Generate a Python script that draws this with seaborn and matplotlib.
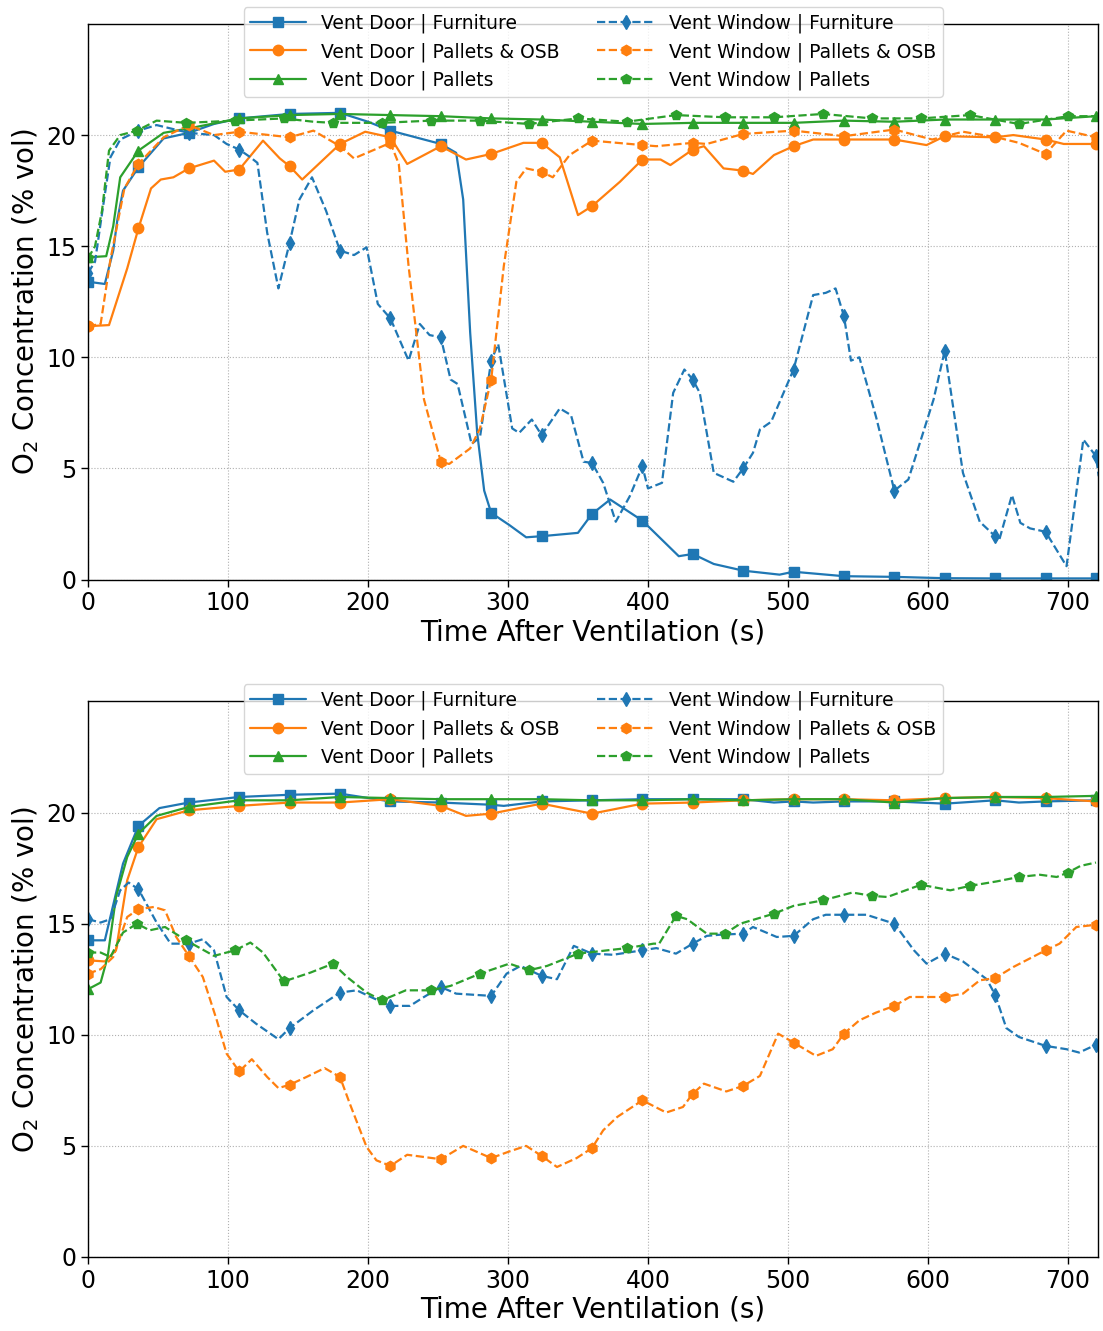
import numpy as np
import seaborn as sns
import matplotlib
matplotlib.use('Agg')
import matplotlib.pyplot as plt

# ---- data ----
# top panel
t_door_furn_1 = [0, 12, 18, 21, 25, 36, 54, 72, 90, 108, 144, 180, 200, 216, 252, 263, 268, 273, 278, 283, 288, 301,
                 313, 324, 350, 360, 373, 396, 422, 432, 447, 468, 494, 504, 540, 576, 612, 648, 684, 720]
o2_door_furn_1 = [13.4, 13.3, 14.8, 16.2, 17.5, 18.55, 19.85, 20.1, 20.5, 20.75, 20.95, 21.0, 20.6, 20.2, 19.6, 19.2,
                  17.1, 11.1, 6.6, 4.0, 3.0, 2.45, 1.9, 1.95, 2.1, 2.95, 3.6, 2.65, 1.05, 1.15, 0.7, 0.4, 0.22, 0.35,
                  0.15, 0.12, 0.06, 0.05, 0.05, 0.05]

t_door_posb_1 = [0, 15, 28, 36, 45, 52, 61, 72, 90, 98, 108, 125, 137, 144, 153, 180, 198, 216, 228, 252, 270, 288, 311,
                 324, 337, 350, 360, 380, 396, 409, 416, 432, 440, 454, 468, 475, 490, 504, 518, 540, 576, 599, 612, 648,
                 661, 684, 697, 720]
o2_door_posb_1 = [11.4, 11.45, 14.0, 15.8, 17.6, 18.0, 18.1, 18.5, 18.85, 18.35, 18.45, 19.75, 18.95, 18.6, 18.0, 19.6,
                  20.15, 19.9, 18.7, 19.5, 18.9, 19.15, 19.65, 19.65, 19.0, 16.4, 16.8, 17.9, 18.9, 18.9, 18.65, 19.35,
                  19.5, 18.5, 18.4, 18.25, 19.1, 19.5, 19.8, 19.8, 19.8, 19.55, 19.95, 19.9, 20.0, 19.8, 19.6, 19.6]

t_door_pal_1 = [0, 13, 18, 23, 36, 54, 72, 108, 144, 180, 216, 252, 288, 324, 360, 396, 432, 468, 504, 540, 576, 612,
                648, 684, 720]
o2_door_pal_1 = [14.5, 14.55, 15.9, 18.1, 19.3, 20.1, 20.3, 20.75, 20.9, 20.95, 20.9, 20.85, 20.75, 20.7, 20.6, 20.5,
                 20.55, 20.55, 20.55, 20.65, 20.6, 20.7, 20.7, 20.7, 20.85]

t_win_furn_1 = [0, 5, 11, 16, 23, 36, 49, 72, 90, 99, 108, 116, 121, 128, 136, 144, 151, 160, 170, 180, 190, 199, 207,
                216, 229, 237, 244, 252, 259, 264, 274, 280, 288, 293, 303, 308, 317, 324, 337, 345, 354, 360, 368, 377,
                387, 396, 400, 410, 418, 426, 432, 437, 447, 461, 468, 475, 480, 488, 504, 518, 527, 534, 540, 545, 551,
                563, 576, 586, 604, 612, 625, 637, 648, 651, 660, 666, 673, 684, 699, 711, 720, 722]
o2_win_furn_1 = [13.8, 14.3, 16.9, 19.0, 19.8, 20.2, 20.45, 20.1, 20.0, 19.6, 19.35, 19.0, 18.75, 15.6, 13.1, 15.15,
                 17.1, 18.1, 16.6, 14.8, 14.6, 14.95, 12.4, 11.75, 9.85, 11.5, 11.0, 10.9, 9.0, 8.8, 6.1, 6.4, 9.85,
                 10.6, 6.8, 6.6, 7.2, 6.5, 7.7, 7.4, 5.3, 5.25, 4.35, 2.6, 3.75, 5.1, 4.1, 4.35, 8.4, 9.45, 9.0, 8.4,
                 4.8, 4.4, 5.0, 5.7, 6.75, 7.1, 9.45, 12.8, 12.9, 13.1, 11.85, 9.85, 10.0, 7.3, 4.0, 4.5, 8.1, 10.3,
                 4.8, 2.6, 1.95, 1.8, 3.8, 2.55, 2.3, 2.15, 0.6, 6.3, 5.55, 4.65]

t_win_posb_1 = [0, 9, 16, 26, 36, 54, 72, 90, 108, 144, 161, 180, 190, 216, 222, 229, 240, 252, 258, 273, 280, 288, 297,
                306, 313, 324, 332, 344, 360, 396, 406, 432, 442, 468, 504, 540, 576, 603, 625, 649, 665, 684, 699, 720]
o2_win_posb_1 = [11.4, 11.5, 14.4, 17.6, 18.7, 19.9, 20.45, 20.0, 20.15, 19.9, 20.2, 19.5, 18.95, 19.65, 18.7, 14.1,
                 8.1, 5.3, 5.2, 5.9, 6.8, 9.0, 14.1, 17.9, 18.5, 18.35, 18.1, 19.1, 19.75, 19.55, 19.5, 19.65, 19.6,
                 20.05, 20.2, 19.95, 20.25, 19.8, 20.15, 19.9, 19.65, 19.15, 20.2, 19.9]

t_win_pal_1 = [0, 5, 10, 15, 23, 35, 49, 70, 105, 140, 161, 175, 210, 245, 280, 315, 350, 385, 420, 455, 490, 525, 560,
               595, 630, 665, 700, 720]
o2_win_pal_1 = [14.45, 15.0, 16.6, 19.3, 20.0, 20.2, 20.65, 20.55, 20.65, 20.75, 20.6, 20.55, 20.55, 20.65, 20.65,
                20.5, 20.75, 20.6, 20.9, 20.8, 20.8, 20.95, 20.75, 20.75, 20.9, 20.5, 20.85, 20.85]

# bottom panel
t_door_furn_2 = [0, 12, 25, 36, 51, 72, 108, 144, 180, 216, 252, 288, 297, 324, 360, 396, 432, 468, 490, 504, 518, 540,
                 576, 612, 648, 665, 684, 720]
o2_door_furn_2 = [14.25, 14.25, 17.7, 19.4, 20.2, 20.45, 20.7, 20.8, 20.85, 20.5, 20.45, 20.35, 20.3, 20.5, 20.55,
                  20.6, 20.6, 20.6, 20.45, 20.5, 20.45, 20.5, 20.5, 20.4, 20.55, 20.45, 20.5, 20.55]

t_door_posb_2 = [0, 12, 20, 28, 36, 49, 72, 108, 144, 180, 216, 252, 270, 288, 324, 360, 396, 432, 468, 504, 540, 576,
                 612, 648, 684, 720]
o2_door_posb_2 = [13.35, 13.3, 13.8, 16.95, 18.45, 19.7, 20.1, 20.3, 20.45, 20.45, 20.6, 20.3, 19.85, 19.95, 20.4,
                  19.95, 20.4, 20.45, 20.55, 20.6, 20.6, 20.55, 20.65, 20.7, 20.65, 20.5]

t_door_pal_2 = [0, 9, 14, 20, 28, 36, 49, 72, 108, 144, 180, 216, 252, 288, 324, 360, 396, 432, 468, 504, 540, 576, 612,
                648, 684, 720]
o2_door_pal_2 = [12.05, 12.35, 13.5, 16.2, 18.0, 19.05, 19.85, 20.25, 20.55, 20.55, 20.7, 20.65, 20.6, 20.6, 20.6,
                 20.55, 20.55, 20.6, 20.55, 20.6, 20.6, 20.45, 20.65, 20.7, 20.7, 20.75]

t_win_furn_2 = [0, 9, 16, 23, 29, 36, 49, 59, 72, 82, 90, 99, 108, 120, 136, 144, 161, 180, 192, 202, 216, 230, 240, 252,
                263, 288, 299, 309, 324, 335, 347, 360, 375, 396, 406, 420, 432, 442, 451, 468, 475, 492, 504, 518, 527,
                540, 556, 576, 590, 599, 612, 625, 642, 648, 656, 665, 684, 699, 708, 720, 722]
o2_win_furn_2 = [15.2, 15.05, 15.2, 16.5, 16.85, 16.55, 15.05, 14.1, 14.1, 14.3, 13.8, 11.7, 11.1, 10.5, 9.8, 10.3,
                 11.1, 11.9, 12.0, 11.7, 11.3, 11.3, 11.7, 12.15, 11.85, 11.75, 12.75, 13.1, 12.65, 12.5, 14.0, 13.65,
                 13.6, 13.8, 13.9, 13.65, 14.1, 14.45, 14.5, 14.55, 14.85, 14.4, 14.45, 15.2, 15.4, 15.4, 15.4, 15.0,
                 13.8, 13.2, 13.65, 13.3, 12.5, 11.8, 10.3, 9.9, 9.5, 9.35, 9.2, 9.55, 9.7]

t_win_posb_2 = [0, 9, 18, 28, 36, 47, 55, 63, 72, 82, 92, 99, 108, 117, 128, 136, 144, 156, 169, 180, 187, 199, 206, 216,
                228, 240, 252, 268, 288, 301, 313, 324, 335, 349, 360, 368, 378, 396, 413, 425, 432, 440, 456, 468, 480,
                493, 504, 520, 532, 540, 551, 563, 576, 587, 599, 612, 625, 637, 648, 661, 684, 694, 706, 720, 722]
o2_win_posb_2 = [12.75, 12.95, 13.5, 15.3, 15.65, 15.75, 15.6, 14.4, 13.55, 12.6, 10.65, 9.15, 8.35, 8.9, 8.1, 7.6,
                 7.75, 8.1, 8.5, 8.1, 6.9, 4.95, 4.35, 4.1, 4.6, 4.5, 4.4, 5.0, 4.45, 4.75, 5.0, 4.55, 4.05, 4.45, 4.9,
                 5.7, 6.3, 7.05, 6.5, 6.75, 7.35, 7.8, 7.45, 7.7, 8.15, 10.05, 9.65, 9.05, 9.35, 10.05, 10.65, 11.0,
                 11.3, 11.7, 11.7, 11.7, 11.85, 12.45, 12.55, 13.05, 13.8, 14.1, 14.85, 14.95, 15.0]

t_win_pal_2 = [0, 9, 16, 25, 35, 44, 55, 70, 90, 105, 116, 125, 140, 159, 175, 185, 199, 210, 227, 245, 259, 280, 301,
               315, 328, 350, 385, 404, 408, 420, 428, 442, 455, 466, 490, 504, 525, 546, 560, 571, 595, 616, 630, 649,
               665, 680, 692, 700, 709, 720]
o2_win_pal_2 = [13.7, 13.7, 13.5, 14.6, 15.0, 14.7, 14.85, 14.25, 13.55, 13.8, 14.15, 13.7, 12.4, 12.8, 13.2, 12.6,
                11.9, 11.55, 12.0, 12.0, 12.2, 12.75, 13.2, 12.9, 13.1, 13.65, 13.9, 14.1, 14.1, 15.35, 15.2, 14.55,
                14.55, 15.0, 15.45, 15.8, 16.05, 16.4, 16.25, 16.2, 16.75, 16.5, 16.7, 16.9, 17.1, 17.2, 17.1, 17.3,
                17.6, 17.75]

labels = ['Vent Door | Furniture', 'Vent Door | Pallets & OSB', 'Vent Door | Pallets',
          'Vent Window | Furniture', 'Vent Window | Pallets & OSB', 'Vent Window | Pallets']
colors = ['#1f77b4', '#ff7f0e', '#2ca02c', '#1f77b4', '#ff7f0e', '#2ca02c']
markers = ['s', 'o', '^', 'd', 'h', 'p']
styles = ['-', '-', '-', '--', '--', '--']
mark_step = [36, 36, 36, 36, 36, 35]

panels = [
    [(t_door_furn_1, o2_door_furn_1), (t_door_posb_1, o2_door_posb_1), (t_door_pal_1, o2_door_pal_1),
     (t_win_furn_1, o2_win_furn_1), (t_win_posb_1, o2_win_posb_1), (t_win_pal_1, o2_win_pal_1)],
    [(t_door_furn_2, o2_door_furn_2), (t_door_posb_2, o2_door_posb_2), (t_door_pal_2, o2_door_pal_2),
     (t_win_furn_2, o2_win_furn_2), (t_win_posb_2, o2_win_posb_2), (t_win_pal_2, o2_win_pal_2)],
]

sns.set_style('ticks')
plt.rcParams['font.family'] = ['DejaVu Sans']
for k in ['text.color', 'axes.labelcolor', 'xtick.color', 'ytick.color', 'axes.edgecolor']:
    plt.rcParams[k] = 'black'

fig, axes = plt.subplots(2, 1, figsize=(11.03, 13.31), dpi=100)
fig.subplots_adjust(left=0.0798, right=0.9955, top=0.982, bottom=0.0556, hspace=0.2194)

for ax, series in zip(axes, panels):
    for i, (t, y) in enumerate(series):
        every = [k for k, v in enumerate(t) if v % mark_step[i] == 0]
        sns.lineplot(x=t, y=y, ax=ax, color=colors[i], linestyle=styles[i], marker=markers[i],
                     markevery=every, markersize=7.5, markeredgecolor=colors[i], markeredgewidth=1,
                     linewidth=1.6, label=labels[i], sort=False)
    ax.set_xlim(0, 721.5)
    ax.set_ylim(0, 25)
    ax.set_xticks(range(0, 701, 100))
    ax.set_yticks([0, 5, 10, 15, 20])
    ax.grid(True, linestyle=':', color='#b0b0b0', linewidth=0.8)
    ax.tick_params(labelsize=17, direction='out', length=5, width=1, color='black', labelcolor='black')
    for s in ax.spines.values():
        s.set_visible(True)
        s.set_color('black')
        s.set_linewidth(1)
    ax.set_xlabel('Time After Ventilation (s)', fontsize=20, labelpad=2)
    ax.set_ylabel('O$_2$ Concentration (% vol)', fontsize=20)
    leg = ax.legend(loc='upper center', bbox_to_anchor=(0.5, 1.0306), ncol=2, fontsize=13.5,
                    handlelength=3, columnspacing=2.0, labelspacing=0.48, borderpad=0.35,
                    borderaxespad=0, fancybox=True, framealpha=0.8, edgecolor='0.8')
    for txt in leg.get_texts():
        txt.set_color('black')

fig.savefig('out.png', dpi=100)
